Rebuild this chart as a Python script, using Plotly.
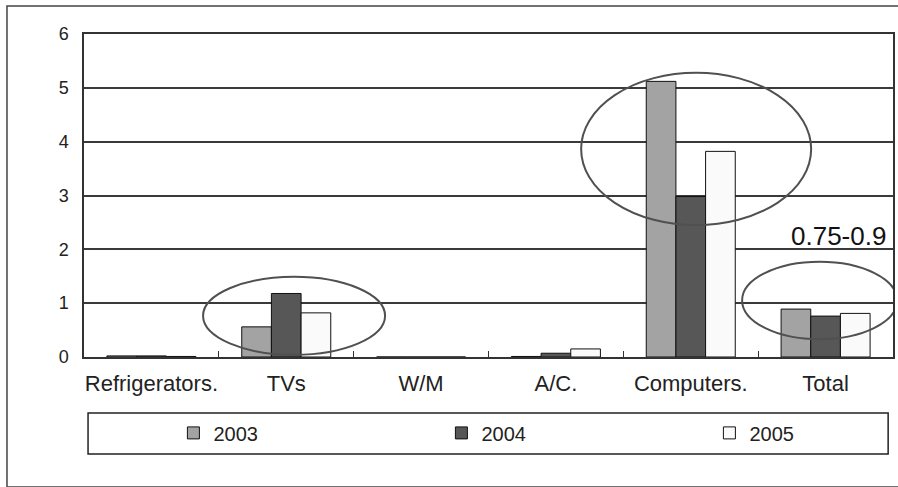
import plotly.graph_objects as go

categories = ["Refrigerators.", "TVs", "W/M", "A/C.", "Computers.", "Total"]
years = ["2003", "2004", "2005"]
v2003 = [0.02, 0.56, 0.0, 0.01, 5.12, 0.89]
v2004 = [0.02, 1.18, 0.0, 0.07, 2.98, 0.76]
v2005 = [0.01, 0.82, 0.0, 0.15, 3.82, 0.81]
y_ticks = [0, 1, 2, 3, 4, 5, 6]
note_text = "0.75-0.9"

# highlight ellipses: (category index start, end, y low, y high)
highlights = [
    (0.383, 1.733, 0.04, 1.49),
    (3.187, 4.893, 2.45, 5.28),
    (4.381, 5.531, 0.33, 1.77),
]

colors = ["#a3a3a3", "#575757", "#fafafa"]
series = [v2003, v2004, v2005]

fig = go.Figure()
for name, vals, c in zip(years, series, colors):
    fig.add_trace(go.Bar(
        x=categories, y=vals, name=name,
        marker=dict(color=c, line=dict(color="#111111", width=1)),
    ))

font_family = "Liberation Sans, Arial, sans-serif"

shapes = []
for x0, x1, y0, y1 in highlights:
    shapes.append(dict(type="circle", xref="x", yref="y", x0=x0, x1=x1, y0=y0, y1=y1,
                       line=dict(color="#505050", width=2), fillcolor="rgba(0,0,0,0)", layer="above"))
# outer frame
shapes.append(dict(type="rect", xref="paper", yref="paper", x0=-0.0952, x1=1.03, y0=-0.4025, y1=1.0867,
                   line=dict(color="#444444", width=1.5), fillcolor="rgba(0,0,0,0)", layer="below"))
# legend box
shapes.append(dict(type="rect", xref="paper", yref="paper", x0=0.005, x1=0.994, y0=-0.300, y1=-0.173,
                   line=dict(color="#222222", width=1.5), fillcolor="rgba(0,0,0,0)"))

fig.update_layout(
    width=898, height=487,
    margin=dict(l=84, r=5, t=34, b=130, autoexpand=False),
    paper_bgcolor="white", plot_bgcolor="white",
    barmode="group", bargap=0.34, bargroupgap=0,
    font=dict(family=font_family, color="#222222"),
    showlegend=True,
    legend=dict(orientation="h", x=0.1105, y=-0.235, xanchor="left", yanchor="middle",
                font=dict(size=20, family=font_family, color="#222222"),
                entrywidth=223, entrywidthmode="pixels", borderwidth=0,
                bgcolor="rgba(0,0,0,0)", traceorder="normal"),
    shapes=shapes,
    annotations=[dict(x="Total", y=2.25, xref="x", yref="y", text=note_text, showarrow=False,
                      xshift=13, font=dict(size=26, family=font_family, color="#111111"))],
)
fig.update_xaxes(type="category", range=[-0.5, 5.5], showline=True, linecolor="#333333", linewidth=1.5,
                 mirror=True, ticks="inside", tickson="boundaries", ticklen=6, tickcolor="#333333",
                 tickfont=dict(size=22, family=font_family, color="#222222"), showgrid=False,
                 tickangle=0, ticklabelstandoff=6)
fig.update_yaxes(range=[0, 6], tickvals=y_ticks, showgrid=True, gridcolor="#3a3a3a", gridwidth=1.5,
                 showline=True, linecolor="#333333", linewidth=1.5, mirror=True, zeroline=False,
                 tickfont=dict(size=18, family=font_family, color="#222222"), ticks="",
                 ticklabelstandoff=10)

fig.write_html("out.html", config={"displayModeBar": False},
               post_script="document.body.style.margin='0';document.body.style.overflow='hidden';")
